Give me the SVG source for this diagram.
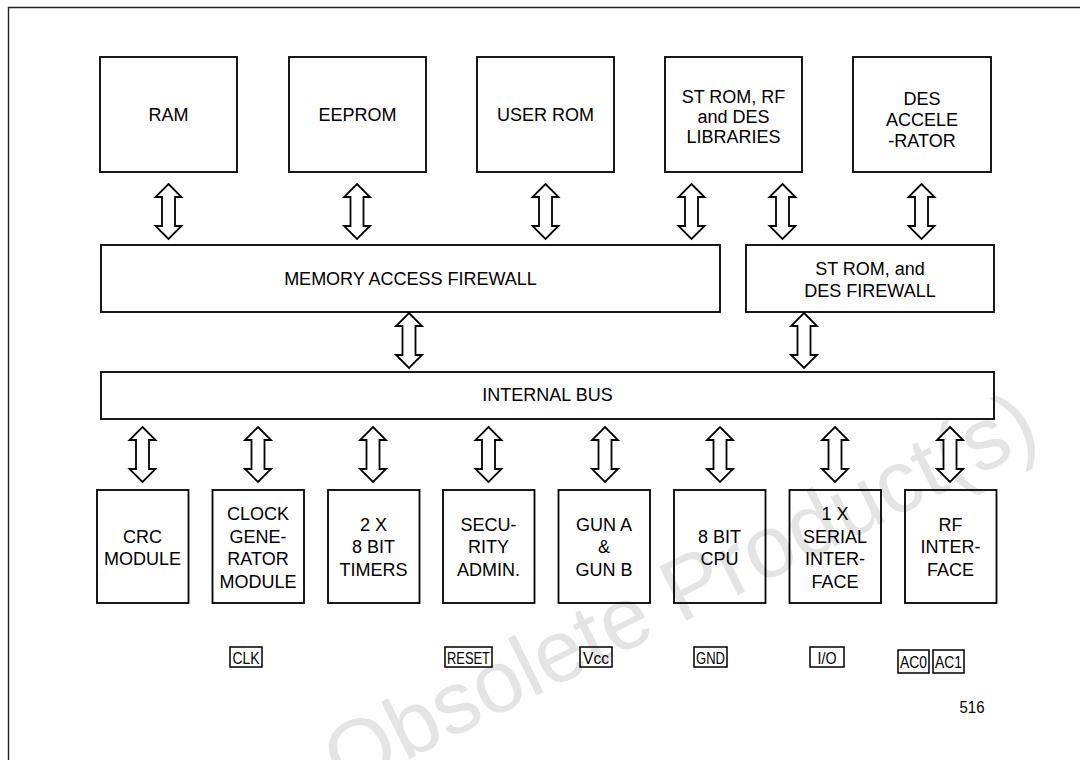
<svg xmlns="http://www.w3.org/2000/svg" width="1080" height="760" viewBox="0 0 1080 760">
<style>
.box{fill:none;stroke:#000;stroke-width:1.8}
.pin{fill:none;stroke:#000;stroke-width:1.5}
.t{font-family:"Liberation Sans",Arial,sans-serif;font-size:18px;fill:#000;text-anchor:middle}
.p{font-family:"Liberation Sans",Arial,sans-serif;font-size:17px;fill:#000;text-anchor:middle}
.arr{fill:#fff;stroke:#000;stroke-width:1.8;stroke-linejoin:miter}
.wm{font-family:"Liberation Sans",Arial,sans-serif;font-size:88px;fill:#e4e4e4}
</style>
<defs>
<path id="arrow" d="M0,0 L13,13 L6.5,13 L6.5,42 L13,42 L0,55 L-13,42 L-6.5,42 L-6.5,13 L-13,13 Z"/>
</defs>
<rect width="1080" height="760" fill="#fff"/>
<text class="wm" transform="translate(343,792) rotate(-26.5)">Obsolete Product(s)</text>
<path d="M8.5,760 V7.5 H1080" fill="none" stroke="#222" stroke-width="1.4"/>

<g id="ram"><rect class="box" x="100" y="57" width="137" height="115"/><text class="t" x="168.5" y="121">RAM</text></g>
<g id="eeprom"><rect class="box" x="289" y="57" width="137" height="115"/><text class="t" x="357.5" y="121">EEPROM</text></g>
<g id="userrom"><rect class="box" x="477" y="57" width="137" height="115"/><text class="t" x="545.5" y="121">USER ROM</text></g>
<g id="strom"><rect class="box" x="665" y="57" width="137" height="115"/><text class="t" x="733.5" y="103">ST ROM, RF</text><text class="t" x="733.5" y="123">and DES</text><text class="t" x="733.5" y="143">LIBRARIES</text></g>
<g id="des"><rect class="box" x="853" y="57" width="138" height="115"/><text class="t" x="922" y="105">DES</text><text class="t" x="922" y="126">ACCELE</text><text class="t" x="922" y="147">-RATOR</text></g>

<g id="maf"><rect class="box" x="101" y="245" width="619" height="67"/><text class="t" x="410.5" y="285">MEMORY ACCESS FIREWALL</text></g>
<g id="desfw"><rect class="box" x="746" y="245" width="248" height="67"/><text class="t" x="870" y="275">ST ROM, and</text><text class="t" x="870" y="297">DES FIREWALL</text></g>
<g id="bus"><rect class="box" x="101" y="372" width="893" height="47"/><text class="t" x="547.5" y="401">INTERNAL BUS</text></g>

<g id="crc"><rect class="box" x="97" y="490" width="91.5" height="113"/><text class="t" x="142.5" y="543">CRC</text><text class="t" x="142.5" y="565">MODULE</text></g>
<g id="clock"><rect class="box" x="212.5" y="490" width="91.5" height="113"/><text class="t" x="258" y="520">CLOCK</text><text class="t" x="258" y="542.5">GENE-</text><text class="t" x="258" y="565">RATOR</text><text class="t" x="258" y="587.5">MODULE</text></g>
<g id="timers"><rect class="box" x="328" y="490" width="91.5" height="113"/><text class="t" x="373.5" y="531">2 X</text><text class="t" x="373.5" y="553">8 BIT</text><text class="t" x="373.5" y="576">TIMERS</text></g>
<g id="security"><rect class="box" x="443" y="490" width="91.5" height="113"/><text class="t" x="488.5" y="531">SECU-</text><text class="t" x="488.5" y="553">RITY</text><text class="t" x="488.5" y="576">ADMIN.</text></g>
<g id="gun"><rect class="box" x="558.5" y="490" width="91.5" height="113"/><text class="t" x="604" y="531">GUN A</text><text class="t" x="604" y="553">&amp;</text><text class="t" x="604" y="576">GUN B</text></g>
<g id="cpu"><rect class="box" x="674" y="490" width="91.5" height="113"/><text class="t" x="719.5" y="543">8 BIT</text><text class="t" x="719.5" y="565">CPU</text></g>
<g id="serial"><rect class="box" x="789.5" y="490" width="91.5" height="113"/><text class="t" x="835" y="520">1 X</text><text class="t" x="835" y="542.5">SERIAL</text><text class="t" x="835" y="565">INTER-</text><text class="t" x="835" y="587.5">FACE</text></g>
<g id="rf"><rect class="box" x="905" y="490" width="91.5" height="113"/><text class="t" x="950.5" y="531">RF</text><text class="t" x="950.5" y="553">INTER-</text><text class="t" x="950.5" y="576">FACE</text></g>

<g id="pin-clk"><rect class="pin" x="230" y="647" width="32" height="20"/><text class="p" x="246" y="663.5" textLength="27" lengthAdjust="spacingAndGlyphs">CLK</text></g>
<g id="pin-reset"><rect class="pin" x="445" y="647" width="47" height="20"/><text class="p" x="468.5" y="663.5" textLength="43" lengthAdjust="spacingAndGlyphs">RESET</text></g>
<g id="pin-vcc"><rect class="pin" x="580" y="647" width="32" height="20"/><text class="p" x="596" y="663.5" textLength="26" lengthAdjust="spacingAndGlyphs">Vcc</text></g>
<g id="pin-gnd"><rect class="pin" x="694" y="647" width="33" height="20"/><text class="p" x="710.5" y="663.5" textLength="29" lengthAdjust="spacingAndGlyphs">GND</text></g>
<g id="pin-io"><rect class="pin" x="810" y="647" width="34" height="20"/><text class="p" x="827" y="663.5" textLength="19" lengthAdjust="spacingAndGlyphs">I/O</text></g>
<g id="pin-ac0"><rect class="pin" x="898" y="650" width="31" height="23"/><text class="p" x="913.5" y="668" textLength="27" lengthAdjust="spacingAndGlyphs">AC0</text></g>
<g id="pin-ac1"><rect class="pin" x="933" y="650" width="31" height="23"/><text class="p" x="948.5" y="668" textLength="27" lengthAdjust="spacingAndGlyphs">AC1</text></g>
<text class="p" x="972" y="713" textLength="25" lengthAdjust="spacingAndGlyphs">516</text>

<g id="connectors">
<use href="#arrow" class="arr" x="168.5" y="184"/>
<use href="#arrow" class="arr" x="357" y="184"/>
<use href="#arrow" class="arr" x="545.5" y="184"/>
<use href="#arrow" class="arr" x="691.5" y="184"/>
<use href="#arrow" class="arr" x="782.5" y="184"/>
<use href="#arrow" class="arr" x="921.5" y="184"/>
<use href="#arrow" class="arr" x="409" y="313"/>
<use href="#arrow" class="arr" x="804" y="313"/>
<use href="#arrow" class="arr" x="142.5" y="427"/>
<use href="#arrow" class="arr" x="258" y="427"/>
<use href="#arrow" class="arr" x="373" y="427"/>
<use href="#arrow" class="arr" x="488.5" y="427"/>
<use href="#arrow" class="arr" x="605" y="427"/>
<use href="#arrow" class="arr" x="720" y="427"/>
<use href="#arrow" class="arr" x="835" y="427"/>
<use href="#arrow" class="arr" x="950" y="427"/>
</g>
</svg>
